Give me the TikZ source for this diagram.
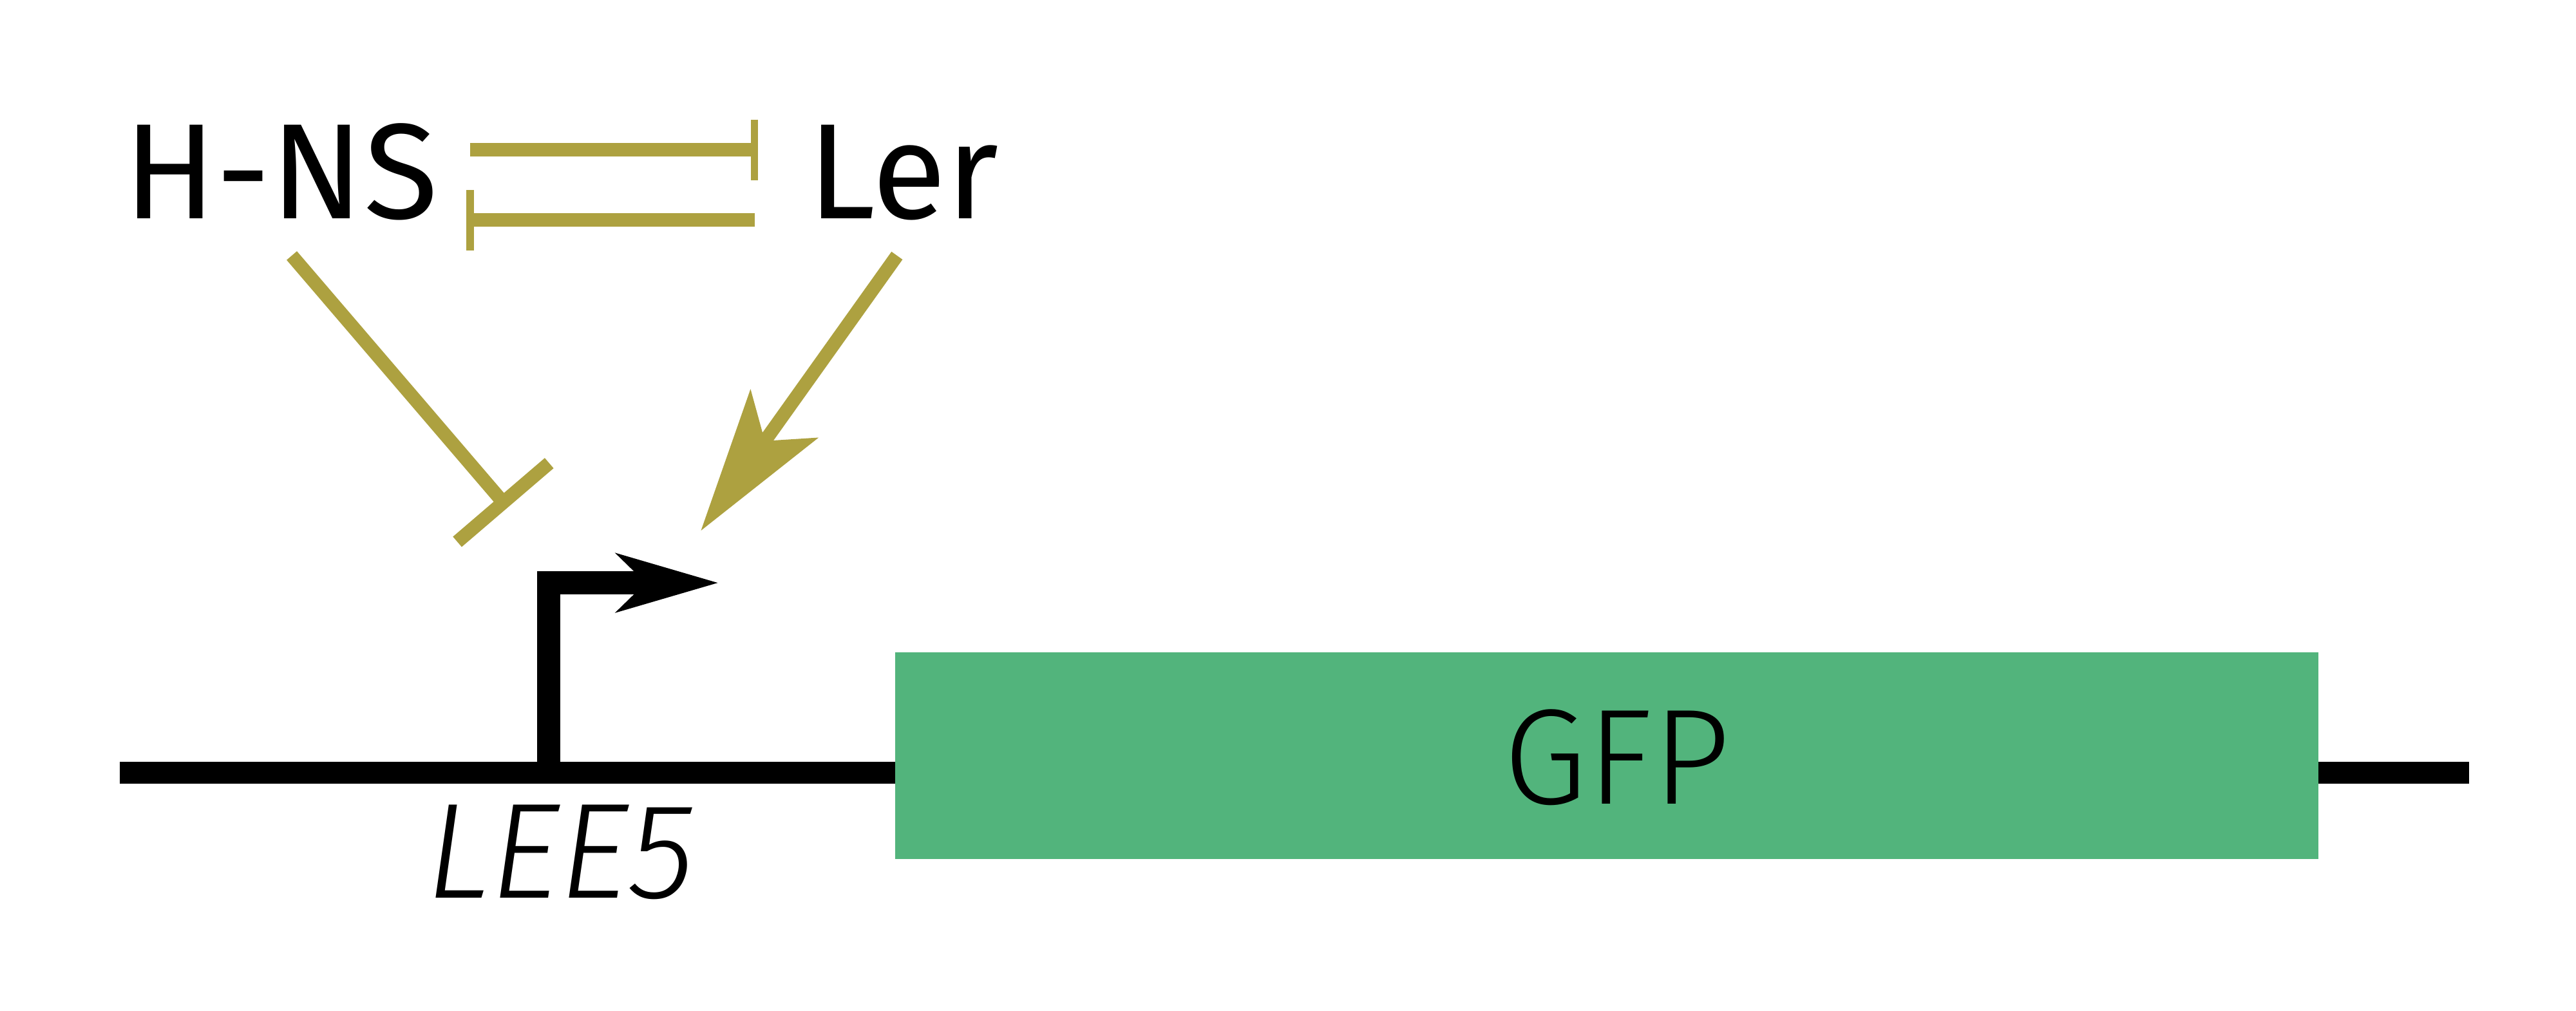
\documentclass[tikz,border=0pt]{standalone}
\usepackage{fontspec}
\setmainfont{Fira Sans}
\IfFontExistsTF{Fira Sans Light}{%
  \IfFontExistsTF{Fira Sans Light Italic}{%
    \newfontfamily\lightfont{Fira Sans Light}[ItalicFont={Fira Sans Light Italic}]%
  }{\newfontfamily\lightfont{Fira Sans Light}}%
}{\newfontfamily\lightfont{Fira Sans}}
\usetikzlibrary{arrows.meta}
\definecolor{gold}{RGB}{173,161,64}
\definecolor{gfpgreen}{RGB}{82,180,124}
\begin{document}
\begin{tikzpicture}[x=0.0255cm,y=-0.0255cm,
  lbl/.style={font=\fontsize{60}{72}\selectfont, inner sep=0, anchor=base},
  lightlbl/.style={font=\fontsize{60}{72}\selectfont\lightfont, inner sep=0, anchor=base},
  goldline/.style={draw=gold, line width=0.21cm},
  inhib/.style={goldline, -{Bar[width=1.877cm]}},
  mutual/.style={goldline, -{Bar[width=0.94cm, line width=0.115cm]}},
  activ/.style={goldline, -{Stealth[length=2.22cm, width=1.275cm, inset=0.51cm]}},
  dna/.style={draw=black, line width=0.344cm},
  prom/.style={draw=black, line width=0.357cm, line join=miter, -{Stealth[length=1.568cm, width=0.8925cm, inset=0.441cm]}},
  gfpbox/.style={fill=gfpgreen, inner sep=0, minimum width=22.08cm, minimum height=3.213cm}
]
\useasboundingbox (0,0) rectangle (1568,615.4);
% labels
\node[lbl] (hns) at (171,133) {H-NS};
\node[lbl] (ler) at (550,133) {Ler};
% DNA
\coordinate (dnaL) at (73,470.5);
\coordinate (dnaR) at (1503,470.5);
\draw[dna] (dnaL) -- (dnaR);
\node[gfpbox] (gfp) at (978,460) {};
\node[lightlbl] (gfptext) at (984,489.5) {GFP};
\node[lightlbl] (lee) at (341,546.5) {\itshape LEE5};
% promoter
\coordinate (pbase) at (334,470.5);
\coordinate (pcorner) at (334,354.8);
\coordinate (ptip) at (437.4,354.8);
\draw[prom] (pbase) -- (pcorner) -- (ptip);
% mutual repression
\coordinate (m1s) at (286,91.2);
\coordinate (m1e) at (461.4,91.2);
\coordinate (m2s) at (459.3,134);
\coordinate (m2e) at (284,134);
\draw[mutual] (m1s) -- (m1e);
\draw[mutual] (m2s) -- (m2e);
% H-NS represses promoter
\coordinate (hs) at (177.6,155.6);
\coordinate (he) at (309,309);
\draw[inhib] (hs) -- (he);
% Ler activates promoter
\coordinate (ls) at (546,155.6);
\coordinate (le) at (426.6,323.1);
\draw[activ] (ls) -- (le);
\end{tikzpicture}
\end{document}
